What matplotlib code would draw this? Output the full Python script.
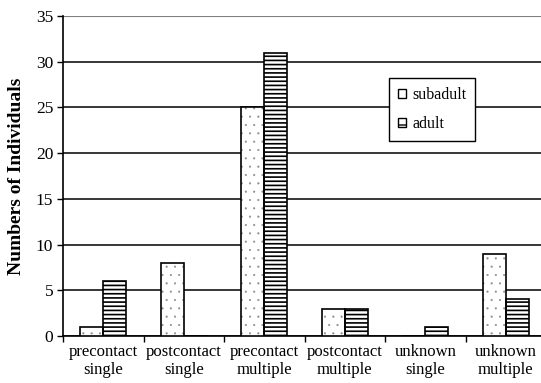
import matplotlib
matplotlib.use("Agg")
import matplotlib.pyplot as plt
import numpy as np
from matplotlib.patches import Patch

categories = ["precontact\nsingle", "postcontact\nsingle", "precontact\nmultiple",
              "postcontact\nmultiple", "unknown\nsingle", "unknown\nmultiple"]
subadult = [1, 8, 25, 3, 0, 9]
adult = [6, 0, 31, 3, 1, 4]
yticks = [0, 5, 10, 15, 20, 25, 30, 35]

plt.rcParams['font.family'] = ['Liberation Serif', 'DejaVu Serif']

fig = plt.figure(figsize=(5.41, 3.83), dpi=100)
ax = fig.add_axes([63/541, 47/383, 483/541, 320/383])

x = np.arange(len(categories)) + 0.5
w = 0.285

# subadult: dotted grey hatch then black outline
plt.rcParams['hatch.linewidth'] = 0.3
ax.bar(x - w/2, subadult, w, color='white', edgecolor='#8c8c8c', hatch='..', linewidth=0, zorder=3)
ax.bar(x - w/2, subadult, w, fill=False, edgecolor='black', linewidth=1.2, zorder=4)
plt.rcParams['hatch.linewidth'] = 1.2
ax.bar(x + w/2, adult, w, color='white', edgecolor='black', hatch='----', linewidth=1.2, zorder=3)

ax.set_xlim(0, len(categories))
ax.set_ylim(0, 35)
ax.set_yticks(yticks)
ax.set_xticks(np.arange(len(categories) + 1))
ax.set_xticklabels([])
ax.set_xticks(x, minor=True)
ax.set_xticklabels(categories, minor=True, fontsize=12, linespacing=1.15)
ax.tick_params(axis='x', which='minor', length=0, pad=6)
ax.tick_params(axis='x', which='major', length=4, direction='out', width=1)
ax.tick_params(axis='y', length=4, direction='out', width=1, labelsize=12.5, pad=3)

ax.grid(axis='y', color='black', linewidth=1.1, zorder=1)
ax.set_axisbelow(True)
gl = ax.yaxis.get_gridlines()
gl[-1].set_color('#808080')
gl[-1].set_linewidth(1.5)

for s in ['top', 'right']:
    ax.spines[s].set_visible(False)
ax.spines['left'].set_linewidth(1.2)
ax.spines['bottom'].set_linewidth(1.2)

ax.set_ylabel("Numbers of Individuals", fontsize=14, fontweight='bold', labelpad=8)

plt.rcParams['hatch.linewidth'] = 1.0
handles = [Patch(facecolor='white', edgecolor='black', linewidth=1.0),
           Patch(facecolor='white', edgecolor='black', hatch='-', linewidth=1.0)]
leg = fig.legend(handles, ['subadult', 'adult'], loc='upper left',
                 bbox_to_anchor=(389/541, 1 - 78/383), fontsize=11.5,
                 handlelength=0.5, handleheight=0.5, handletextpad=0.4,
                 labelspacing=0.85, borderpad=0.55, fancybox=False,
                 framealpha=1, edgecolor='black', borderaxespad=0)
leg.get_frame().set_linewidth(1.0)

fig.savefig("out.png", dpi=100)
